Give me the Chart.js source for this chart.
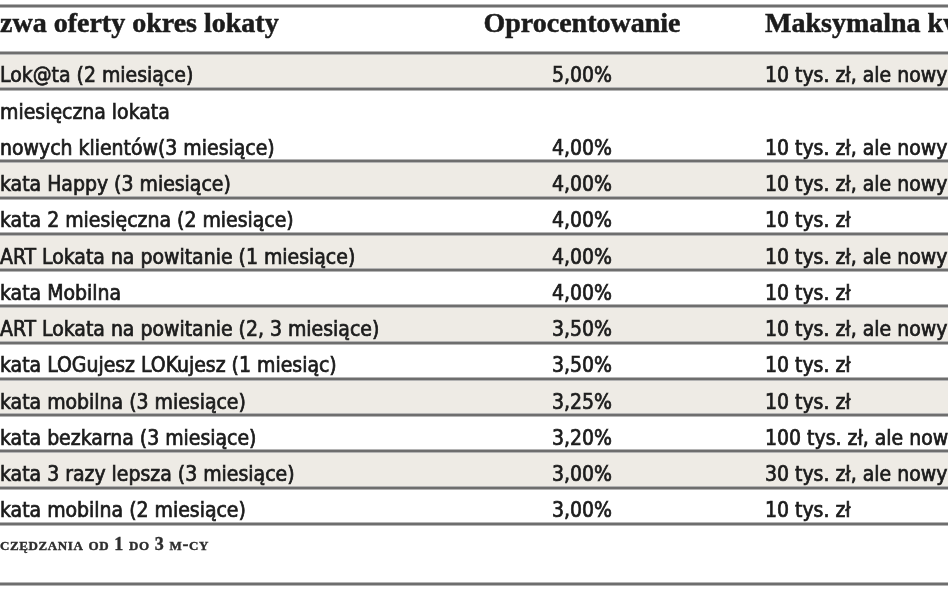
<!DOCTYPE html>
<html lang="pl">
<head>
<meta charset="utf-8">
<script src="https://cdn.jsdelivr.net/npm/chart.js@4.4.1/dist/chart.umd.min.js"></script>
<style>
  html, body { margin: 0; padding: 0; background: #fff; }
  #wrap { width: 948px; height: 593px; position: relative; }
</style>
</head>
<body>
<div id="wrap"><canvas id="tbl"></canvas></div>
<script>
// Column headers (the crop cuts off both ends of the original table)
const headers = ['zwa oferty okres lokaty', 'Oprocentowanie', 'Maksymalna kwota'];

// One entry per row; two-line names are arrays
const offers = [
  'Lok@ta (2 miesiące)',
  ['miesięczna lokata', 'nowych klientów(3 miesiące)'],
  'kata Happy (3 miesiące)',
  'kata 2 miesięczna (2 miesiące)',
  'ART Lokata na powitanie (1 miesiące)',
  'kata Mobilna',
  'ART Lokata na powitanie (2, 3 miesiące)',
  'kata LOGujesz LOKujesz (1 miesiąc)',
  'kata mobilna (3 miesiące)',
  'kata bezkarna (3 miesiące)',
  'kata 3 razy lepsza (3 miesiące)',
  'kata mobilna (2 miesiące)'
];
const rates = [5.00, 4.00, 4.00, 4.00, 4.00, 4.00, 3.50, 3.50, 3.25, 3.20, 3.00, 3.00];
const limits = [
  '10 tys. zł, ale nowy',
  '10 tys. zł, ale nowy',
  '10 tys. zł, ale nowy',
  '10 tys. zł',
  '10 tys. zł, ale nowy',
  '10 tys. zł',
  '10 tys. zł, ale nowy',
  '10 tys. zł',
  '10 tys. zł',
  '100 tys. zł, ale nowy',
  '30 tys. zł, ale nowy',
  '10 tys. zł'
];
const footnote = 'czędzania od 1 do 3 m-cy';

// layout (y in "line" units, 0 = top of first data row)
const UNIT = 36.25;
const Y_MIN = -52.5 / UNIT;
const Y_MAX = Y_MIN + 593 / UNIT;
const TOP_RULE = -1.283;
const HEAD_BASE = -0.566;
const BOTTOM_RULE = 14.66;
const FOOT_BASE = 13.72;
const COL1_X = 0, COL2_X = 582, COL3_X = 765;

const lines = offers.map(o => Array.isArray(o) ? o.length : 1);
const rowStart = [];
lines.reduce((acc, n, i) => { rowStart[i] = acc; return acc + n; }, 0);

const SANS = '"DejaVu Sans Condensed", "DejaVu Sans", sans-serif';
const SERIF = '"Liberation Serif", "DejaVu Serif", serif';
const INK = '#1c1c1c';

function rule(ctx, y, w) {
    ctx.fillStyle = '#b4b4b4';
    ctx.fillRect(0, Math.round(y) - 2, w, 4);
    ctx.fillStyle = '#6e6e6e';
    ctx.fillRect(0, Math.round(y) - 1, w, 2);
}

// the print face is a bit heavier than DejaVu Book, so add a hairline stroke
function heavyText(ctx, t, x, y) {
    ctx.fillText(t, x, y);
    ctx.strokeText(t, x, y);
}

const tablePlugin = {
    id: 'table',
    beforeDatasetsDraw(chart) {
        const { ctx, scales: { x, y }, width } = chart;
        ctx.save();

        // shaded rows
        offers.forEach((o, i) => {
            if (i % 2 === 0) {
                const y0 = y.getPixelForValue(rowStart[i]);
                const y1 = y.getPixelForValue(rowStart[i] + lines[i]);
                ctx.fillStyle = '#eeebe5';
                ctx.fillRect(0, y0, width, y1 - y0);
            }
        });

        // rules
        rule(ctx, y.getPixelForValue(TOP_RULE), width);
        rule(ctx, y.getPixelForValue(0), width);
        offers.forEach((o, i) => rule(ctx, y.getPixelForValue(rowStart[i] + lines[i]), width));
        rule(ctx, y.getPixelForValue(BOTTOM_RULE), width);

        // header
        ctx.fillStyle = INK;
        ctx.strokeStyle = INK;
        ctx.lineWidth = 0.5;
        ctx.font = 'bold 28px ' + SERIF;
        ctx.textBaseline = 'alphabetic';
        const hy = y.getPixelForValue(HEAD_BASE);
        ctx.textAlign = 'left';
        heavyText(ctx, headers[0], x.getPixelForValue(COL1_X), hy);
        ctx.textAlign = 'center';
        heavyText(ctx, headers[1], x.getPixelForValue(COL2_X), hy);
        ctx.textAlign = 'left';
        heavyText(ctx, headers[2], x.getPixelForValue(COL3_X), hy);

        // body text
        ctx.font = '21px ' + SANS;
        ctx.lineWidth = 0.7;
        offers.forEach((o, i) => {
            const names = Array.isArray(o) ? o : [o];
            const end = rowStart[i] + lines[i];
            names.forEach((t, k) => {
                const by = y.getPixelForValue(end - (names.length - 1 - k)) - 6.5;
                ctx.textAlign = 'left';
                heavyText(ctx, t, x.getPixelForValue(COL1_X), by);
            });
            const by = y.getPixelForValue(end) - 6.5;
            heavyText(ctx, limits[i], x.getPixelForValue(COL3_X), by);
        });

        // footnote
        ctx.fillStyle = '#2e2e2e';
        ctx.strokeStyle = '#2e2e2e';
        ctx.lineWidth = 0.4;
        ctx.font = 'small-caps bold 18px ' + SERIF;
        ctx.letterSpacing = '0.6px';
        ctx.textAlign = 'left';
        heavyText(ctx, footnote, x.getPixelForValue(COL1_X), y.getPixelForValue(FOOT_BASE));
        ctx.restore();
    },
    afterDatasetsDraw(chart) {
        // rate labels sit on the dataset's own points
        const { ctx } = chart;
        const meta = chart.getDatasetMeta(0);
        ctx.save();
        ctx.fillStyle = INK;
        ctx.strokeStyle = INK;
        ctx.lineWidth = 0.7;
        ctx.font = '21px ' + SANS;
        ctx.textAlign = 'center';
        ctx.textBaseline = 'alphabetic';
        meta.data.forEach((pt, i) => {
            heavyText(ctx, rates[i].toFixed(2).replace('.', ',') + '%', pt.x, pt.y - 6.5);
        });
        ctx.restore();
    }
};

new Chart(document.getElementById('tbl'), {
    type: 'scatter',
    data: {
        datasets: [{
            label: 'Oprocentowanie',
            data: rates.map((r, i) => ({ x: COL2_X, y: rowStart[i] + lines[i] })),
            pointRadius: 0,
            pointHoverRadius: 0
        }]
    },
    options: {
        responsive: true,
        maintainAspectRatio: false,
        animation: false,
        devicePixelRatio: 1,
        layout: { padding: 0 },
        events: [],
        scales: {
            x: { type: 'linear', min: 0, max: 948, display: false },
            y: { type: 'linear', min: Y_MIN, max: Y_MAX, reverse: true, display: false }
        },
        plugins: { legend: { display: false }, tooltip: { enabled: false } }
    },
    plugins: [tablePlugin]
});
</script>
</body>
</html>
